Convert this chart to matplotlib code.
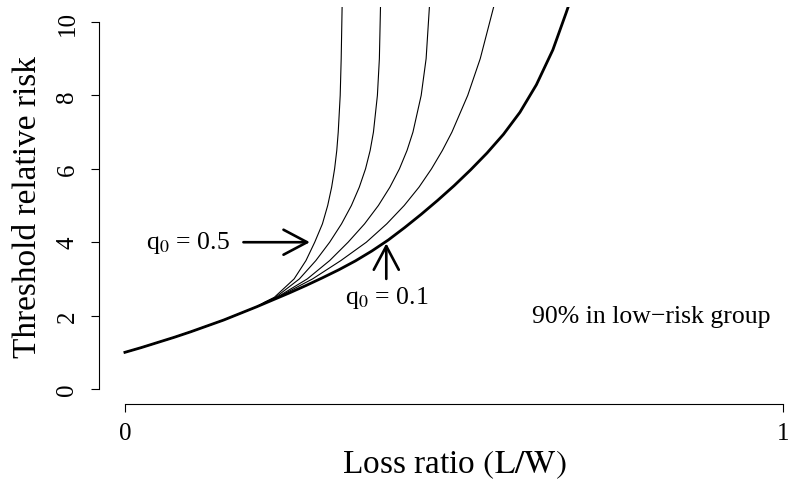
import matplotlib
matplotlib.use("Agg")
import matplotlib.pyplot as plt

plt.rcParams["font.family"] = ["Liberation Serif", "DejaVu Serif"]
plt.rcParams["mathtext.fontset"] = "stix"

# part shared by all curves
base_x = [0.0, 0.025, 0.05, 0.075, 0.10, 0.125, 0.15, 0.175, 0.20]
base_y = [1.0, 1.13, 1.27, 1.41, 1.56, 1.72, 1.88, 2.06, 2.24]

# thin curves q0 = 0.5 .. 0.2 after they leave the shared part
q05_x = [0.2125, 0.227, 0.257, 0.275, 0.2883, 0.300, 0.308, 0.314, 0.3185, 0.3218, 0.324, 0.327, 0.3285, 0.3299]
q05_y = [2.37, 2.5, 3.0, 3.5, 4.0, 4.5, 5.0, 5.5, 6.0, 6.5, 7.0, 8.0, 9.0, 10.41]

q04_x = [0.2135, 0.229, 0.265, 0.290, 0.311, 0.329, 0.344, 0.356, 0.3655, 0.3725, 0.3775, 0.3835, 0.3865, 0.3882]
q04_y = [2.37, 2.5, 3.0, 3.5, 4.0, 4.5, 5.0, 5.5, 6.0, 6.5, 7.0, 8.0, 9.0, 10.41]

q03_x = [0.2145, 0.231, 0.277, 0.311, 0.339, 0.364, 0.385, 0.4025, 0.417, 0.4285, 0.4375, 0.450, 0.4575, 0.4625]
q03_y = [2.37, 2.5, 3.0, 3.5, 4.0, 4.5, 5.0, 5.5, 6.0, 6.5, 7.0, 8.0, 9.0, 10.41]

q02_x = [0.215, 0.232, 0.285, 0.328, 0.3667, 0.3977, 0.4242, 0.4467, 0.4657, 0.4822, 0.4967, 0.5207, 0.5397, 0.5601]
q02_y = [2.37, 2.5, 3.0, 3.5, 4.0, 4.5, 5.0, 5.5, 6.0, 6.5, 7.0, 8.0, 9.0, 10.41]

# q0 = 0.1, the thick one
q01_x = [0.225, 0.25, 0.275, 0.30, 0.325, 0.35, 0.375, 0.40, 0.425, 0.45, 0.475, 0.50,
         0.525, 0.55, 0.575, 0.60, 0.625, 0.65, 0.67, 0.675]
q01_y = [2.43, 2.62, 2.82, 3.03, 3.25, 3.49, 3.76, 4.06, 4.40, 4.76, 5.14, 5.54,
         5.97, 6.43, 6.94, 7.54, 8.29, 9.24, 10.24, 10.5]

fig = plt.figure(figsize=(7.9, 4.81), dpi=100)
ax = fig.add_axes([0.1248, 0.1586, 0.9, 0.8241])

for cx, cy in [(q05_x, q05_y), (q04_x, q04_y), (q03_x, q03_y), (q02_x, q02_y)]:
    ax.plot(base_x + cx, base_y + cy, color="black", lw=0.8)
ax.plot(base_x + q01_x, base_y + q01_y, color="black", lw=2.0)

ax.set_xlim(-0.04, 1.04)
ax.set_ylim(-0.4, 10.4)

for s in ["top", "right"]:
    ax.spines[s].set_visible(False)
ax.spines["left"].set_bounds(0, 10)
ax.spines["bottom"].set_bounds(0, 1)
ax.spines["left"].set_linewidth(0.8)
ax.spines["bottom"].set_linewidth(0.8)

ax.set_xticks([0, 1])
ax.set_xticklabels(["0", "1"])
ax.set_yticks([0, 2, 4, 6, 8, 10])
ax.set_yticklabels(["0", "2", "4", "6", "8", "10"], rotation=90, va="center")
ax.tick_params(axis="both", direction="out", length=5.5, width=0.8, labelsize=18)
ax.tick_params(axis="y", pad=9)
ax.tick_params(axis="x", pad=8)

ax.set_xlabel(r"Loss ratio $\left(\mathrm{L/W}\right)$", fontsize=24, labelpad=2)
ax.set_ylabel("Threshold relative risk", fontsize=24, labelpad=10)

arrow = dict(arrowstyle="->,head_length=1.7,head_width=0.9", lw=1.9, color="black",
             shrinkA=0, shrinkB=0, mutation_scale=10)
ax.annotate("", xy=(0.281, 4.0), xytext=(0.18, 4.0), arrowprops=arrow)
ax.annotate("", xy=(0.397, 3.97), xytext=(0.397, 3.0), arrowprops=arrow)

ax.text(0.159, 4.0, r"q$_\mathrm{0}$ = 0.5", ha="right", va="center", fontsize=18.5)
ax.text(0.397, 2.85, r"q$_\mathrm{0}$ = 0.1", ha="center", va="top", fontsize=18.5)
ax.text(0.80, 2.0, "90% in low\u2212risk group", ha="center", va="center", fontsize=18.5)

fig.savefig("out.png", dpi=100)
